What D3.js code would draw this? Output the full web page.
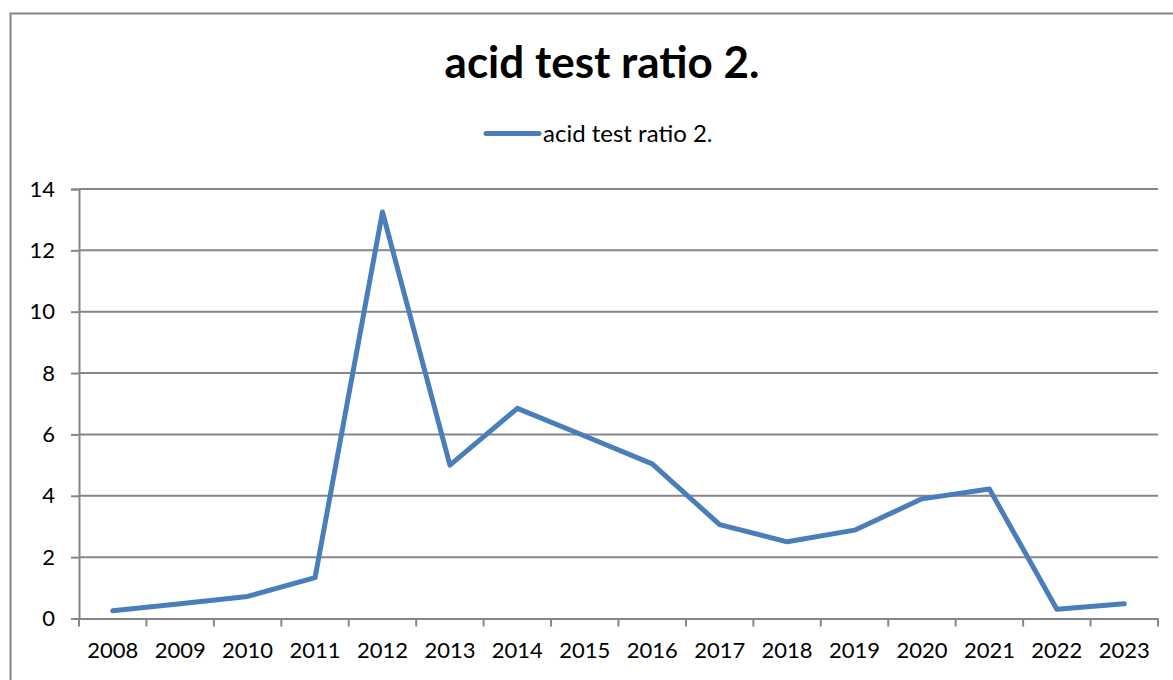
<!DOCTYPE html>
<html>
<head>
<meta charset="utf-8">
<script src="https://cdn.jsdelivr.net/npm/d3@7"></script>
<style>
  body { margin: 0; background: #fff; }
  svg { display: block; font-family: Lato, "Open Sans", sans-serif; }
</style>
</head>
<body>
<div id="chart"></div>
<script>
// data
var years = ["2008", "2009", "2010", "2011", "2012", "2013", "2014", "2015",
             "2016", "2017", "2018", "2019", "2020", "2021", "2022", "2023"];
var ratio = [0.25, 0.48, 0.72, 1.33, 13.25, 5.0, 6.85, 5.95,
             5.04, 3.06, 2.5, 2.88, 3.9, 4.22, 0.3, 0.48];
var yTicks = [0, 2, 4, 6, 8, 10, 12, 14];
var seriesName = "acid test ratio 2.";

var width = 1173, height = 680;
var plotLeft = 79, plotRight = 1158, plotTop = 189, plotBottom = 618.5;
var gridColor = "#868686", lineColor = "#4a7ebb";

var svg = d3.select("#chart")
    .append("svg")
    .attr("width", width)
    .attr("height", height);

// outer chart border
svg.append("rect")
    .attr("x", 10.5).attr("y", 13.5)
    .attr("width", 1180).attr("height", 700)
    .attr("fill", "none")
    .attr("stroke", gridColor)
    .attr("stroke-width", 2);

var x = d3.scaleBand().domain(years).range([plotLeft, plotRight]);
var y = d3.scaleLinear().domain([0, 14]).range([plotBottom, plotTop]);

// horizontal gridlines
svg.append("g")
    .selectAll("line")
    .data(yTicks.filter(d => d > 0))
    .enter()
    .append("line")
    .attr("x1", plotLeft).attr("x2", plotRight)
    .attr("y1", d => y(d)).attr("y2", d => y(d))
    .attr("stroke", gridColor)
    .attr("stroke-width", 2);

// y axis
var yAxis = svg.append("g")
    .attr("transform", "translate(" + plotLeft + ",0)")
    .call(d3.axisLeft(y).tickValues(yTicks).tickSize(8).tickPadding(16));
yAxis.select(".domain").attr("stroke", gridColor).attr("stroke-width", 2);
yAxis.selectAll(".tick line").attr("stroke", gridColor).attr("stroke-width", 2);
yAxis.selectAll("text")
    .attr("fill", "#000")
    .style("font-size", "22px")
    .style("font-family", "Lato, sans-serif");

// x axis, ticks between categories
var xAxis = svg.append("g")
    .attr("transform", "translate(0," + plotBottom + ")")
    .call(d3.axisBottom(x).tickSize(0).tickPadding(24));
xAxis.select(".domain").attr("stroke", gridColor).attr("stroke-width", 2);
xAxis.selectAll("text")
    .attr("fill", "#000")
    .style("font-size", "22px")
    .style("font-family", "Lato, sans-serif");

svg.append("g")
    .selectAll("line")
    .data(years.concat(["end"]))
    .enter()
    .append("line")
    .attr("x1", (d, i) => plotLeft + i * x.step())
    .attr("x2", (d, i) => plotLeft + i * x.step())
    .attr("y1", plotBottom).attr("y2", plotBottom + 8)
    .attr("stroke", gridColor)
    .attr("stroke-width", 2);

// the series line
var line = d3.line()
    .x((d, i) => x(years[i]) + x.bandwidth() / 2)
    .y(d => y(d));

svg.append("path")
    .datum(ratio)
    .attr("d", line)
    .attr("fill", "none")
    .attr("stroke", lineColor)
    .attr("stroke-width", 5)
    .attr("stroke-linejoin", "round")
    .attr("stroke-linecap", "round");

// title
svg.append("text")
    .attr("x", 602)
    .attr("y", 78)
    .attr("text-anchor", "middle")
    .style("font-size", "44px")
    .style("font-weight", "bold")
    .text(seriesName);

// legend
svg.append("line")
    .attr("x1", 486).attr("x2", 539)
    .attr("y1", 133.5).attr("y2", 133.5)
    .attr("stroke", lineColor)
    .attr("stroke-width", 5)
    .attr("stroke-linecap", "round");

svg.append("text")
    .attr("x", 543)
    .attr("y", 142)
    .style("font-size", "24px")
    .text(seriesName);
</script>
</body>
</html>
